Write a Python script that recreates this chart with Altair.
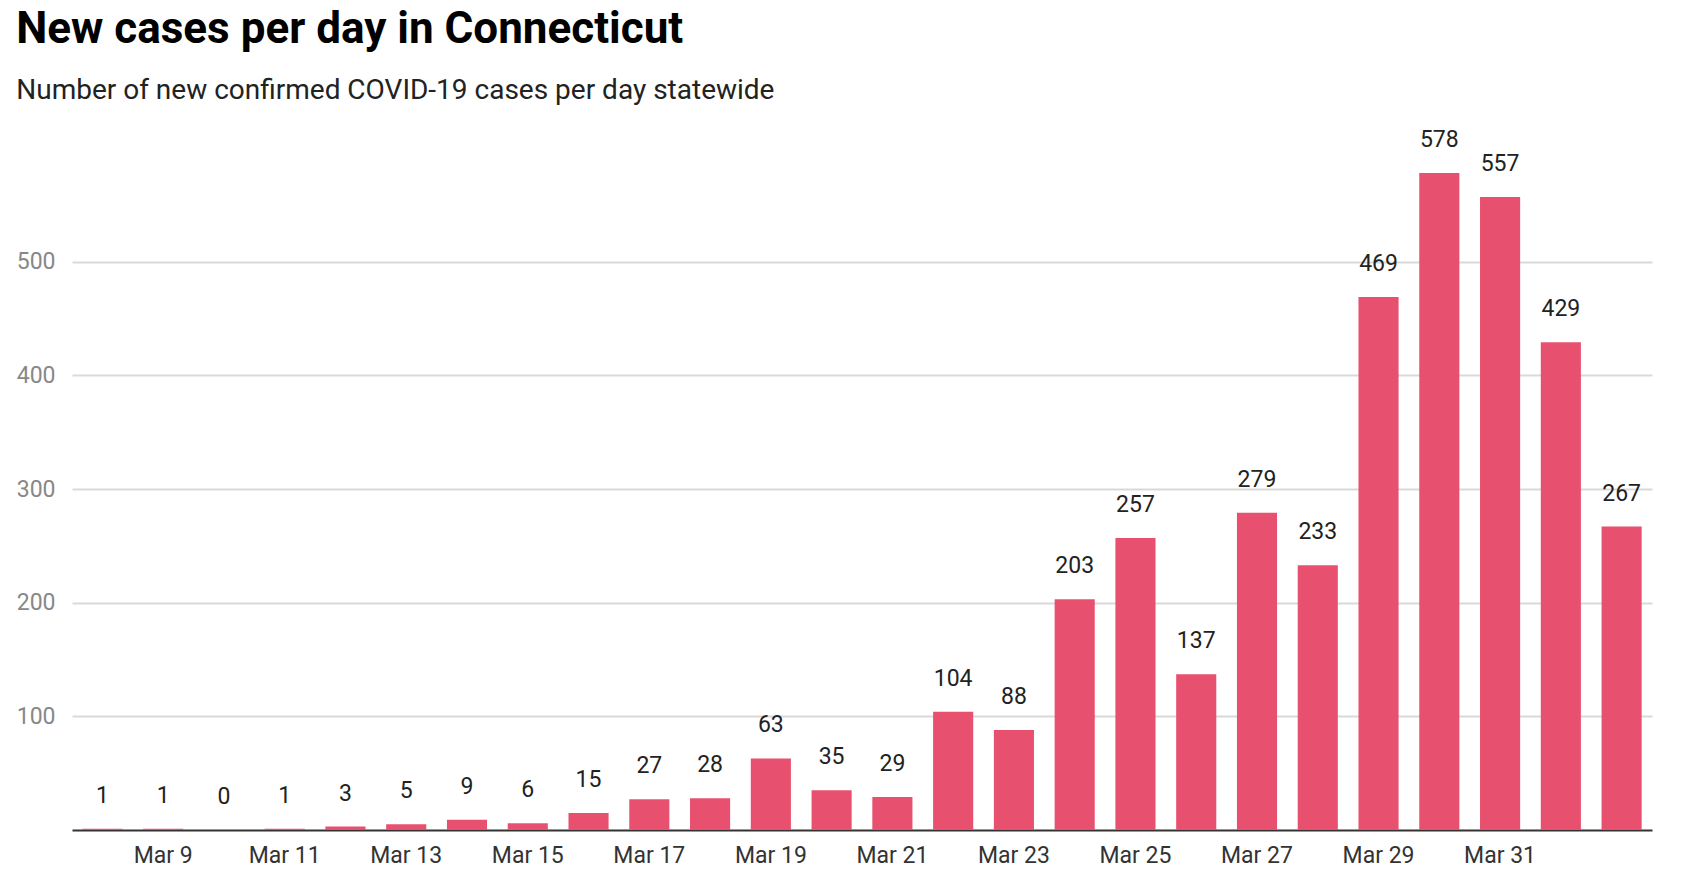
import altair as alt
import pandas as pd

days = ["Mar 8", "Mar 9", "Mar 10", "Mar 11", "Mar 12", "Mar 13", "Mar 14",
        "Mar 15", "Mar 16", "Mar 17", "Mar 18", "Mar 19", "Mar 20", "Mar 21",
        "Mar 22", "Mar 23", "Mar 24", "Mar 25", "Mar 26", "Mar 27", "Mar 28",
        "Mar 29", "Mar 30", "Mar 31", "Apr 1", "Apr 2"]
cases = [1, 1, 0, 1, 3, 5, 9, 6, 15, 27, 28, 63, 35, 29, 104, 88, 203, 257,
         137, 279, 233, 469, 578, 557, 429, 267]
x_tick_labels = ["Mar 9", "Mar 11", "Mar 13", "Mar 15", "Mar 17", "Mar 19",
                 "Mar 21", "Mar 23", "Mar 25", "Mar 27", "Mar 29", "Mar 31"]
y_ticks = [100, 200, 300, 400, 500]

df = pd.DataFrame({"day": days, "cases": cases})

FONT = "Roboto"

base = alt.Chart(df).encode(
    x=alt.X(
        "day:N",
        sort=days,
        scale=alt.Scale(paddingInner=0.34, paddingOuter=0.17),
        axis=alt.Axis(
            values=x_tick_labels, title=None, labelAngle=0, ticks=False,
            domainColor="#333333", domainWidth=2, labelFont=FONT,
            labelFontSize=23, labelColor="#333333", labelPadding=14,
            grid=False,
        ),
    )
)

bars = base.mark_bar(color="#e8506f").encode(
    y=alt.Y(
        "cases:Q",
        scale=alt.Scale(domain=[0, 600], nice=False),
        axis=alt.Axis(
            values=y_ticks, title=None, domain=False, ticks=False,
            labelFont=FONT, labelFontSize=23, labelColor="#888888",
            labelPadding=17, gridColor="#d9d9d9", gridWidth=2,
        ),
    )
)

labels = base.mark_text(
    dy=-26, baseline="alphabetic", align="center", font=FONT,
    fontSize=23, color="#222222",
).encode(y="cases:Q", text="cases:Q")

chart = (bars + labels).properties(
    width=1580,
    height=682,
    title=alt.TitleParams(
        text="New cases per day in Connecticut",
        subtitle="Number of new confirmed COVID-19 cases per day statewide",
        anchor="start",
        frame="bounds",
        font=FONT,
        fontSize=44,
        fontWeight="bold",
        color="#000000",
        subtitleFont=FONT,
        subtitleFontSize=28,
        subtitleColor="#222222",
        subtitlePadding=25,
        offset=24,
    ),
    autosize=alt.AutoSizeParams(type="none"),
    padding={"left": 64, "top": 140, "right": 30, "bottom": 46},
).configure_view(stroke=None)

chart.save("out.html", embed_options={"renderer": "svg", "actions": False})
